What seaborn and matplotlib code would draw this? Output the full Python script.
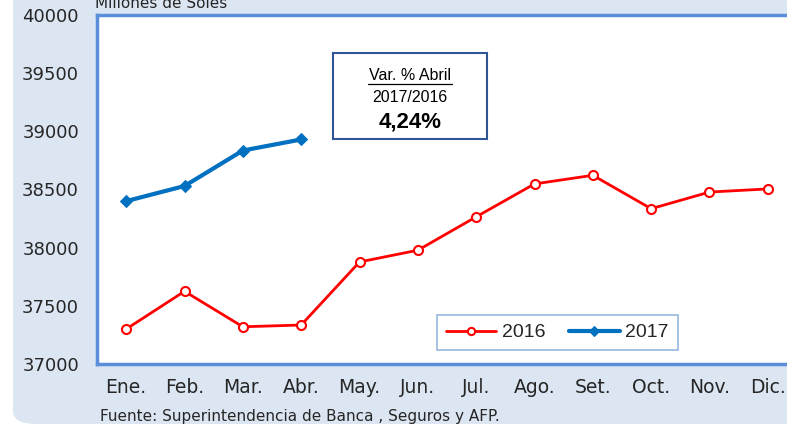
import pandas as pd
import numpy as np
import matplotlib.pyplot as plt
import seaborn as sns
from matplotlib.patches import FancyBboxPatch, Rectangle

# Data (millones de soles)
months = ["Ene.", "Feb.", "Mar.", "Abr.", "May.", "Jun.", "Jul.", "Ago.", "Set.", "Oct.", "Nov.", "Dic."]
values_2016 = [37300, 37625, 37320, 37335, 37877, 37978, 38265, 38548, 38622, 38335, 38478, 38505]
values_2017 = [38400, 38530, 38835, 38930]
y_ticks = [37000, 37500, 38000, 38500, 39000, 39500, 40000]

df = pd.DataFrame({
    "mes": list(range(12)) + list(range(4)),
    "valor": values_2016 + values_2017,
    "anio": ["2016"] * 12 + ["2017"] * 4,
})

sns.set_theme(style="white")
plt.rcParams["font.family"] = ["Liberation Sans", "DejaVu Sans"]

W, H = 787, 426
fig = plt.figure(figsize=(W / 100, H / 100), dpi=100, facecolor="white")

# light blue background panel, rounded at the bottom left
bg = FancyBboxPatch((13 / W, 2 / H), 1.2, 1.3, boxstyle="round,pad=0,rounding_size=0.03",
                    transform=fig.transFigure, facecolor="#dce6f2", edgecolor="none", zorder=-1)
fig.patches.append(bg)

ax = fig.add_axes([97 / W, (H - 364) / H, 700 / W, (364 - 15) / H])
ax.set_zorder(1)
ax.set_facecolor("white")

sns.lineplot(data=df[df.anio == "2016"], x="mes", y="valor", ax=ax, color="#ff0000",
             lw=2, marker="o", markersize=6.5, markerfacecolor="white",
             markeredgecolor="#ff0000", markeredgewidth=1.5, label="2016")
sns.lineplot(data=df[df.anio == "2017"], x="mes", y="valor", ax=ax, color="#0070c0",
             lw=3, marker="D", markersize=6.5, markerfacecolor="#0070c0",
             markeredgecolor="#0070c0", label="2017")

ax.set_xlim(-0.5, 11.5)
ax.set_ylim(37000, 40000)
ax.set_yticks(y_ticks)
ax.set_yticklabels([str(v) for v in y_ticks], fontsize=13, color="#262626", family="DejaVu Sans")
ax.set_xticks(range(12))
ax.set_xticklabels(months, fontsize=13.5, color="#262626", family="DejaVu Sans")
ax.set_xticks(np.arange(-0.5, 12, 1), minor=True)
ax.tick_params(axis="x", which="major", length=0, pad=10)
ax.tick_params(axis="x", which="minor", length=7, color="#5b8fd9", width=1.2, direction="out")
ax.tick_params(axis="y", length=7, color="#5b8fd9", width=1.2, direction="out", pad=6)
ax.set_xlabel("")
ax.set_ylabel("")

for s in ["left", "bottom", "top"]:
    ax.spines[s].set_color("#5b8fd9")
    ax.spines[s].set_linewidth(2.5)
    ax.spines[s].set_visible(True)
ax.spines["right"].set_visible(False)

leg = ax.legend(loc="upper left", bbox_to_anchor=((437 - 97) / 700, 1 - (315 - 15) / 349),
                borderaxespad=0, ncol=2, frameon=True, fontsize=14, handlelength=2.6,
                columnspacing=1.2, handletextpad=0.3, borderpad=0.45, fancybox=False,
                markerscale=0.8)
leg.get_frame().set_edgecolor("#7da7d9")
leg.get_frame().set_linewidth(1.2)
for t in leg.get_texts():
    t.set_color("#262626")

# annotation box
box = Rectangle((333 / W, (H - 139) / H), (487 - 333) / W, (139 - 53) / H, transform=fig.transFigure,
                facecolor="white", edgecolor="#2f5597", lw=1.5, zorder=5)
fig.patches.append(box)
cx = 410 / W
fig.text(cx, (H - 75) / H, "Var. % Abril", ha="center", va="center", fontsize=11.5,
         color="black", zorder=6)
fig.add_artist(plt.Line2D([368 / W, 452 / W], [(H - 84) / H] * 2, transform=fig.transFigure,
                          color="black", lw=0.9, zorder=6))
fig.text(cx, (H - 98) / H, "2017/2016", ha="center", va="center", fontsize=11.5,
         color="black", zorder=6)
fig.text(cx, (H - 122) / H, "4,24%", ha="center", va="center", fontsize=16, fontweight="bold",
         color="black", zorder=6)

fig.text(95 / W, (H - 3) / H, "Millones de Soles", ha="left", va="center", fontsize=11,
         color="#262626", family="DejaVu Sans")
fig.text(100 / W, (H - 417) / H, "Fuente: Superintendencia de Banca , Seguros y AFP.", ha="left",
         va="center", fontsize=11, color="#262626", family="DejaVu Sans")

fig.savefig("out.png", dpi=100, facecolor="white")
